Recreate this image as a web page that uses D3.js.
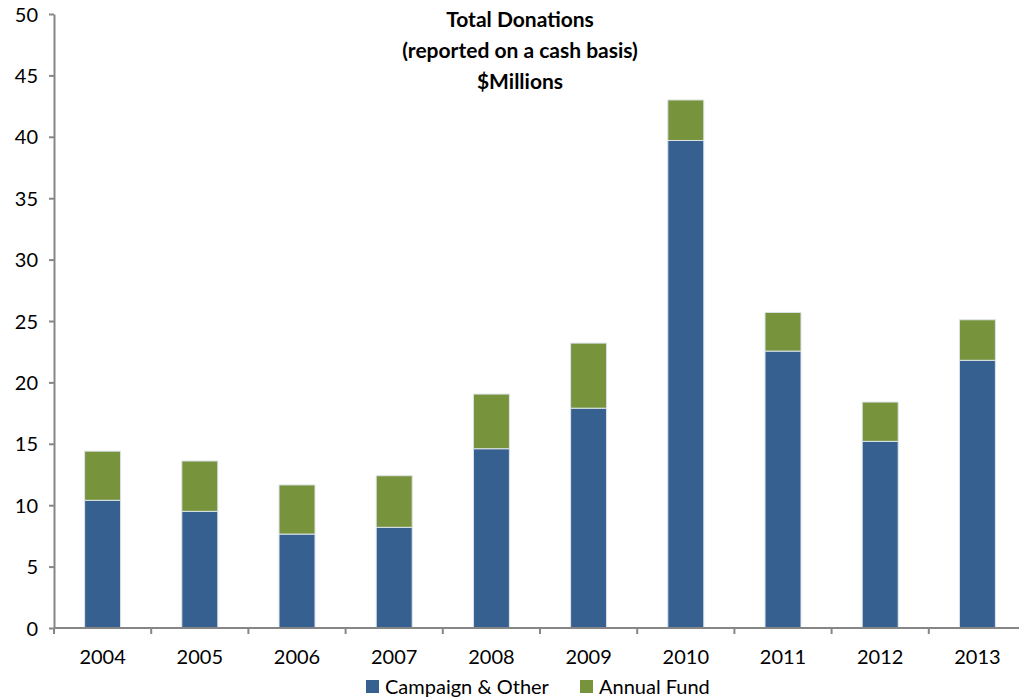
<!DOCTYPE html>
<meta charset="utf-8">
<style>
    body { margin: 0; background: #fff; }
    .axis text { font: 20px Lato, "Open Sans", sans-serif; fill: #000; }
    .axis path, .axis line { stroke: #868686; stroke-width: 2px; }
    .title { font: bold 21px Lato, sans-serif; }
    .legend { font: 20px Lato, sans-serif; }
</style>
<body>
<script src="https://d3js.org/d3.v7.min.js"></script>
<script>
    // data ($ millions)
    var years = ["2004", "2005", "2006", "2007", "2008", "2009", "2010", "2011", "2012", "2013"];
    var campaign = [10.4, 9.5, 7.65, 8.2, 14.6, 17.9, 39.7, 22.55, 15.2, 21.8];
    var annualFund = [4.0, 4.1, 4.0, 4.2, 4.45, 5.3, 3.3, 3.15, 3.2, 3.3];
    var yTicks = [0, 5, 10, 15, 20, 25, 30, 35, 40, 45, 50];
    var seriesNames = ["Campaign & Other", "Annual Fund"];
    var colors = ["#36608f", "#77933c"];

    var width = 1019, height = 698;
    var plotLeft = 54, plotRight = 1026, plotTop = 14, plotBottom = 628;

    var rows = years.map(function(y, i) {
        return {year: y, "Campaign & Other": campaign[i], "Annual Fund": annualFund[i]};
    });
    var stacked = d3.stack().keys(seriesNames)(rows);

    var x = d3.scaleBand().domain(years).range([plotLeft, plotRight])
        .paddingInner(0.63).paddingOuter(0.315);
    var y = d3.scaleLinear().domain([0, 50]).range([plotBottom, plotTop]);

    var svg = d3.select("body").append("svg")
        .attr("width", width)
        .attr("height", height);

    // bars
    svg.selectAll("g.series")
        .data(stacked)
        .enter().append("g")
        .attr("class", "series")
        .attr("fill", function(d, i) { return colors[i]; })
        .selectAll("rect")
        .data(function(d) { return d; })
        .enter().append("rect")
        .attr("x", function(d) { return x(d.data.year); })
        .attr("y", function(d) { return y(d[1]); })
        .attr("width", x.bandwidth())
        .attr("height", function(d) { return y(d[0]) - y(d[1]); })
        .attr("stroke", "#dde3ea")
        .attr("stroke-width", 1);

    // y axis
    svg.append("g")
        .attr("class", "axis")
        .attr("transform", "translate(" + plotLeft + ",0)")
        .call(d3.axisLeft(y).tickValues(yTicks).tickSize(5).tickPadding(11).tickSizeOuter(0))
        .selectAll("text").attr("dy", "0.35em");

    // x axis with ticks between categories
    var xAxis = svg.append("g")
        .attr("class", "axis")
        .attr("transform", "translate(0," + plotBottom + ")");
    xAxis.append("line")
        .attr("x1", plotLeft).attr("x2", plotRight);
    xAxis.selectAll("line.tk")
        .data(d3.range(years.length + 1))
        .enter().append("line")
        .attr("class", "tk")
        .attr("x1", function(i) { return plotLeft + i * x.step(); })
        .attr("x2", function(i) { return plotLeft + i * x.step(); })
        .attr("y1", 0).attr("y2", 6);
    xAxis.selectAll("text")
        .data(years)
        .enter().append("text")
        .attr("x", function(d) { return x(d) + x.bandwidth() / 2; })
        .attr("y", 29)
        .attr("dy", "0.35em")
        .style("text-anchor", "middle")
        .text(function(d) { return d; });

    // title
    var title = ["Total Donations", "(reported on a cash basis)", "$Millions"];
    svg.selectAll("text.title")
        .data(title)
        .enter().append("text")
        .attr("class", "title")
        .attr("x", 520)
        .attr("y", function(d, i) { return 27 + i * 31; })
        .style("text-anchor", "middle")
        .text(function(d) { return d; });

    // legend
    var legendX = [366, 580];
    var lg = svg.selectAll("g.legend")
        .data(seriesNames)
        .enter().append("g")
        .attr("class", "legend")
        .attr("transform", function(d, i) { return "translate(" + legendX[i] + ",680)"; });
    lg.append("rect")
        .attr("width", 13).attr("height", 13)
        .attr("fill", function(d, i) { return colors[i]; });
    lg.append("text")
        .attr("x", 19).attr("y", 7)
        .attr("dy", "0.35em")
        .text(function(d) { return d; });
</script>
</body>
